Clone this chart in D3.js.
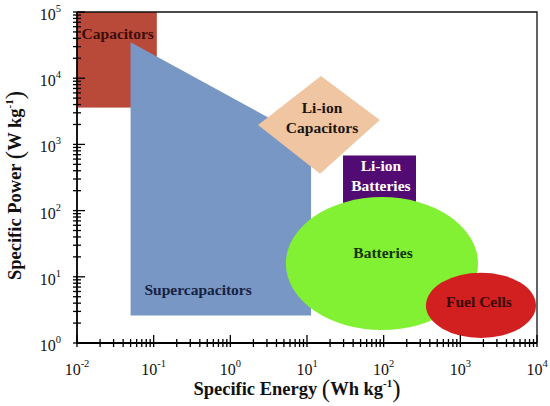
<!DOCTYPE html>
<html>
<head>
<meta charset="utf-8">
<script src="https://cdn.jsdelivr.net/npm/d3@7"></script>
<style>
  body { margin: 0; background: #fff; }
</style>
</head>
<body>
<div id="chart"></div>
<script>
// axis decades (exponents of ten)
const xExps = [-2, -1, 0, 1, 2, 3, 4];
const yExps = [0, 1, 2, 3, 4, 5];

// regions, in data units [specific energy Wh/kg, specific power W/kg]
const capacitorsBox = [[0.01, 3600], [0.11, 100000]];
const supercapPoly = [[0.05, 35000], [11.3, 1130], [11.3, 2.6], [0.05, 2.6]];
const liCapDiamond = [[2.3, 1960], [15.2, 10800], [89, 2340], [14.8, 360]];
const liBattBox = [[29.5, 120], [264, 680]];
const batteriesOval = [[5.3, 1.57], [1700, 160]];
const fuelCellsOval = [[356, 1.19], [9700, 11.5]];

// labels: text lines and anchor [energy, power]
const labelNames = [['Capacitors'], ['Supercapacitors'], ['Li-ion', 'Capacitors'], ['Li-ion', 'Batteries'], ['Batteries'], ['Fuel Cells']];
const labelAt = [[0.034, 46500], [0.38, 6.3], [15.7, 2500], [92, 339], [98, 23], [1750, 4.2]];
const labelColors = ['#3d0b08', '#16223f', '#1a1410', '#ffffff', '#153306', '#3a0808'];

const FONT = 'Liberation Serif';

const W = 550, H = 406;
const m = {left: 77, right: 13, top: 12, bottom: 63};

const svg = d3.select('#chart').append('svg')
  .attr('width', W).attr('height', H);

const addText = () => svg.append('text').attr('font-family', FONT);
const span = (t, weight) => t.append('tspan').attr('font-family', FONT).attr('font-weight', weight);

const x = d3.scaleLog().domain([1e-2, 1e4]).range([m.left, W - m.right]);
const y = d3.scaleLog().domain([1, 1e5]).range([H - m.bottom, m.top]);

// capacitors
svg.append('rect')
  .attr('x', x(capacitorsBox[0][0]))
  .attr('y', y(capacitorsBox[1][1]))
  .attr('width', x(capacitorsBox[1][0]) - x(capacitorsBox[0][0]))
  .attr('height', y(capacitorsBox[0][1]) - y(capacitorsBox[1][1]))
  .attr('fill', '#b94a3a');

const poly = d3.line().x(d => x(d[0])).y(d => y(d[1]));

// supercapacitors
svg.append('path')
  .attr('d', poly(supercapPoly) + 'Z')
  .attr('fill', '#7897c5');

// li-ion capacitors
svg.append('path')
  .attr('d', poly(liCapDiamond) + 'Z')
  .attr('fill', '#efc6a1');

// li-ion batteries
svg.append('rect')
  .attr('x', x(liBattBox[0][0]))
  .attr('y', y(liBattBox[1][1]))
  .attr('width', x(liBattBox[1][0]) - x(liBattBox[0][0]))
  .attr('height', y(liBattBox[0][1]) - y(liBattBox[1][1]))
  .attr('fill', '#520b73');

const oval = (b, col) => {
  const x0 = x(b[0][0]), x1 = x(b[1][0]);
  const y0 = y(b[1][1]), y1 = y(b[0][1]);
  svg.append('ellipse')
    .attr('cx', (x0 + x1) / 2).attr('cy', (y0 + y1) / 2)
    .attr('rx', (x1 - x0) / 2).attr('ry', (y1 - y0) / 2)
    .attr('fill', col);
}
oval(batteriesOval, '#82f133');
oval(fuelCellsOval, '#d21f1f');

// region labels, one text per line
labelNames.forEach((lines, i) => {
  const lh = 20;
  lines.forEach((s, j) => {
    addText()
      .attr('text-anchor', 'middle')
      .attr('font-weight', 'bold')
      .attr('font-size', 15.5)
      .attr('fill', labelColors[i])
      .attr('x', x(labelAt[i][0]))
      .attr('y', y(labelAt[i][1]) + 5 + (j - (lines.length - 1) / 2) * lh)
      .text(s);
  });
});

// frame
const x0 = x.range()[0], x1 = x.range()[1];
const y0 = y.range()[0], y1 = y.range()[1];
svg.append('path')
  .attr('d', `M${x0},${y1}H${x1}V${y0}`)
  .attr('fill', 'none').attr('stroke', '#111').attr('stroke-width', 1.3);
svg.append('path')
  .attr('d', `M${x0},${y1}V${y0}H${x1}`)
  .attr('fill', 'none').attr('stroke', '#000').attr('stroke-width', 1.8);

// ticks
const minors = exps => {
  const out = [];
  exps.slice(0, -1).forEach(e => d3.range(2, 10).forEach(k => out.push(k * Math.pow(10, e))));
  return out;
};
const majorsX = xExps.map(e => Math.pow(10, e));
const majorsY = yExps.map(e => Math.pow(10, e));

const tickG = svg.append('g').attr('stroke', '#000').attr('stroke-width', 1.3);
minors(xExps).forEach(v => tickG.append('line')
  .attr('x1', x(v)).attr('x2', x(v)).attr('y1', y0 - 4).attr('y2', y0 + 4));
majorsX.forEach(v => tickG.append('line')
  .attr('x1', x(v)).attr('x2', x(v)).attr('y1', y0 - 8).attr('y2', y0 + 4));
minors(yExps).forEach(v => tickG.append('line')
  .attr('y1', y(v)).attr('y2', y(v)).attr('x1', x0 - 4).attr('x2', x0 + 4));
majorsY.forEach(v => tickG.append('line')
  .attr('y1', y(v)).attr('y2', y(v)).attr('x1', x0 - 4).attr('x2', x0 + 8));

// tick labels 10^n
xExps.forEach(e => {
  const t = addText()
    .attr('x', x(Math.pow(10, e))).attr('y', y0 + 32)
    .attr('text-anchor', 'middle').attr('font-size', 16).attr('fill', '#111');
  span(t, 'normal').text('10');
  span(t, 'normal').attr('font-size', 10.5).attr('dy', -8).text(e);
});
yExps.forEach(e => {
  const t = addText()
    .attr('x', x0 - 16).attr('y', y(Math.pow(10, e)) + 8)
    .attr('text-anchor', 'end').attr('font-size', 16).attr('fill', '#111');
  span(t, 'normal').text('10');
  span(t, 'normal').attr('font-size', 10.5).attr('dy', -8).text(e);
});

// axis titles
const title = (t, main, unit) => {
  span(t, 'bold').text(main + ' ');
  span(t, 'normal').attr('font-size', 25).attr('dy', 2).text('(');
  span(t, 'bold').attr('dy', -2).text(unit + ' kg');
  span(t, 'bold').attr('font-size', 11).attr('dy', -8).text('-1');
  span(t, 'normal').attr('font-size', 25).attr('dy', 10).text(')');
};
const xt = addText()
  .attr('x', 297).attr('y', H - 11)
  .attr('text-anchor', 'middle').attr('font-size', 18.5).attr('font-weight', 'bold').attr('fill', '#111');
title(xt, 'Specific Energy', 'Wh');

const yt = addText()
  .attr('transform', `translate(21,${(y0 + y1) / 2 + 8}) rotate(-90)`)
  .attr('text-anchor', 'middle').attr('font-size', 18.5).attr('font-weight', 'bold').attr('fill', '#111');
title(yt, 'Specific Power', 'W');
</script>
</body>
</html>
